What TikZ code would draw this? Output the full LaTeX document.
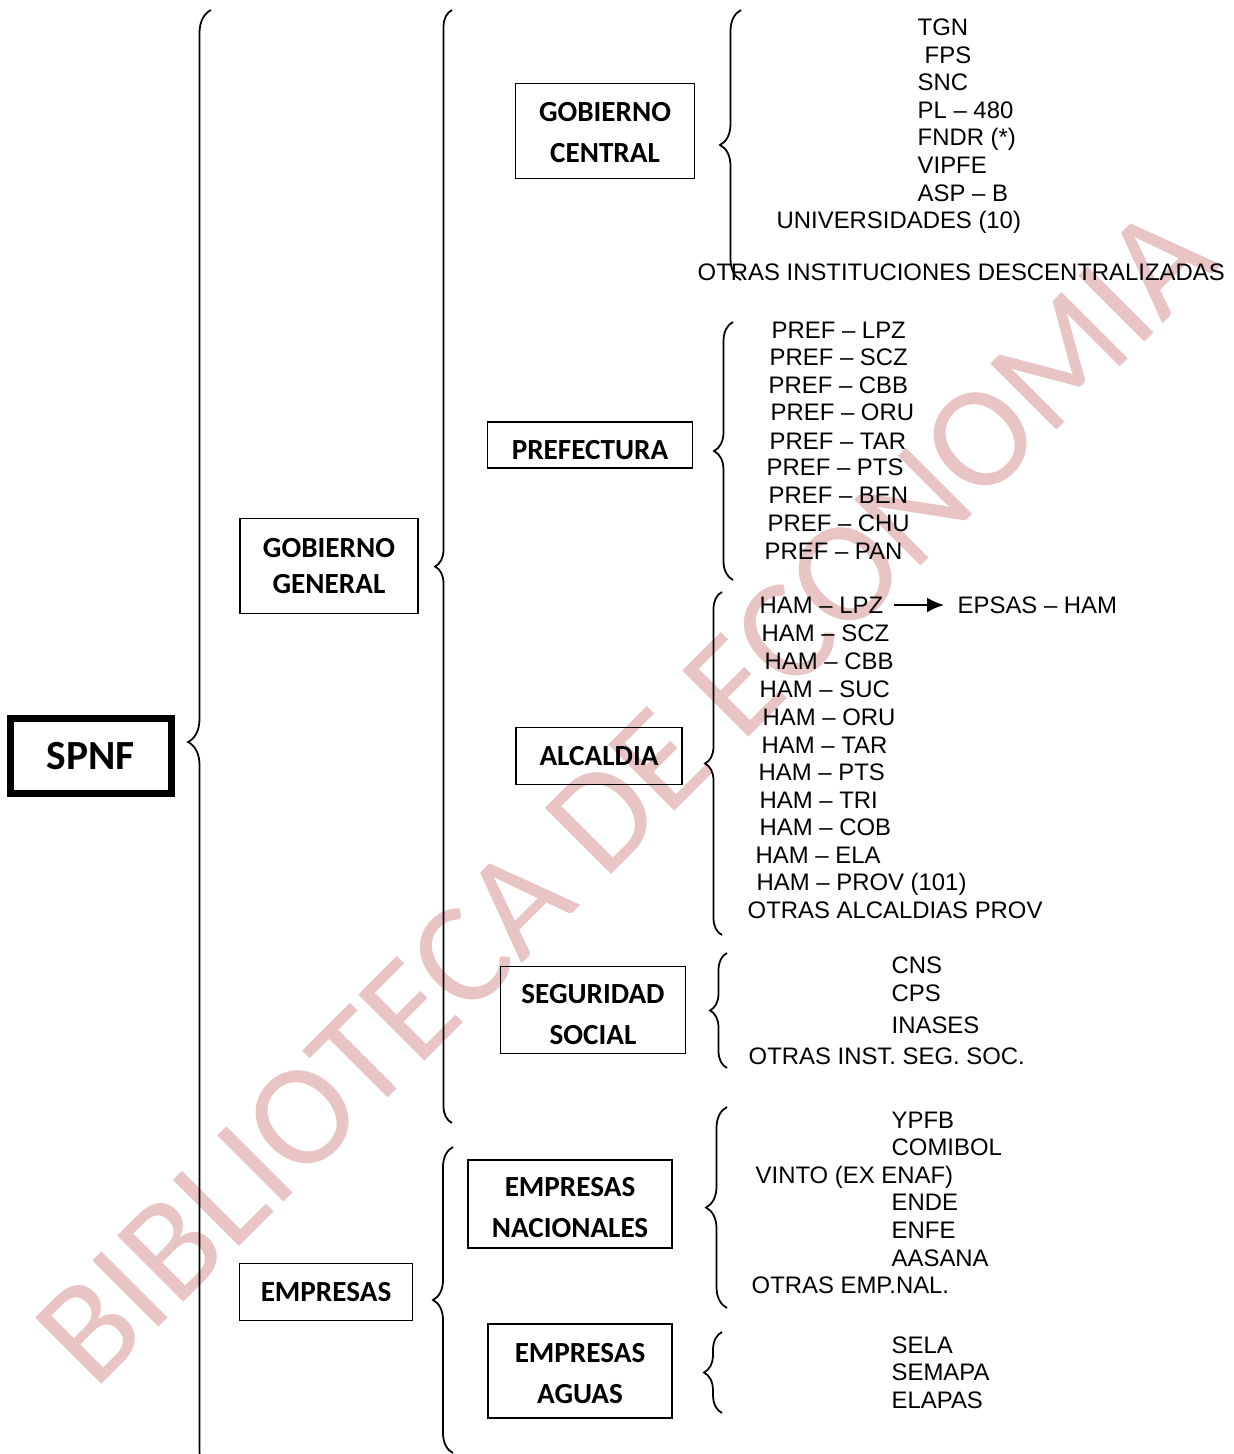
\documentclass[tikz,border=0pt]{standalone}
\usepackage{fontspec}
\setmainfont{Liberation Sans}
\newfontfamily\calibri{Carlito}
\usetikzlibrary{decorations.pathreplacing, arrows.meta}
\definecolor{marca}{RGB}{233,196,196}

\begin{document}
\begin{tikzpicture}[x=0.02cm, y=-0.02cm, thick,
    main/.style = {draw, line width=1.1pt, align=center, inner sep=0pt, font=\calibri\bfseries\fontsize{16.6}{23.3}\selectfont},
    item/.style = {anchor=west, inner sep=0pt, text height=0.34cm, text depth=0pt, font=\fontsize{13.6}{16}\selectfont},
    brc/.style = {decorate, decoration={brace, amplitude=#1}, line width=1pt}]
        \useasboundingbox (0,0) rectangle (1234,1454);
        \clip (0,0) rectangle (1234,1454);

        \node[rotate=45, text=marca, font=\calibri\fontsize{83}{83}\selectfont] (marca) at (625,795) {BIBLIOTECA DE ECONOMIA};

        \node[main, line width=4pt, minimum width=3.22cm, minimum height=1.5cm, font=\calibri\bfseries\fontsize{23.6}{28}\selectfont] (spnf) at (91,756) {SPNF};
        \node[main, minimum width=3.56cm, minimum height=1.9cm, font=\calibri\bfseries\fontsize{16.6}{20.5}\selectfont] (gg) at (329,566) {GOBIERNO\\GENERAL};
        \node[main, minimum width=3.46cm, minimum height=1.14cm] (emp) at (326,1292) {EMPRESAS};
        \node[main, minimum width=3.58cm, minimum height=1.9cm] (gc) at (605,131) {\rule{0pt}{0.454cm}GOBIERNO\\CENTRAL};
        \node[main, minimum width=4.1cm, minimum height=0.92cm] (pref) at (590,445) {\rule{0pt}{0.576cm}PREFECTURA};
        \node[main, minimum width=3.32cm, minimum height=1.14cm] (alc) at (599,756) {ALCALDIA};
        \node[main, minimum width=3.7cm, minimum height=1.74cm] (seg) at (593,1010) {\rule{0pt}{0.574cm}SEGURIDAD\\SOCIAL};
        \node[main, minimum width=4.08cm, minimum height=1.76cm] (en) at (570,1204) {\rule{0pt}{0.534cm}EMPRESAS\\NACIONALES};
        \node[main, minimum width=3.68cm, minimum height=1.88cm] (ea) at (580,1371) {\rule{0pt}{0.494cm}EMPRESAS\\AGUAS};

        \node[item] (tgn) at (917,27) {TGN};
        \node[item] (fps) at (924,55) {FPS};
        \node[item] (snc) at (917,82) {SNC};
        \node[item] (pl) at (917,110) {PL \textendash{} 480};
        \node[item] (fndr) at (917,137) {FNDR (*)};
        \node[item] (vipfe) at (917,165) {VIPFE};
        \node[item] (asp) at (917,193) {ASP \textendash{} B};
        \node[item] (univ) at (776,220) {UNIVERSIDADES (10)};
        \node[item] (oid) at (697,272) {OTRAS INSTITUCIONES DESCENTRALIZADAS};

        \node[item] (plpz) at (771,330) {PREF \textendash{} LPZ};
        \node[item] (pscz) at (769,357) {PREF \textendash{} SCZ};
        \node[item] (pcbb) at (768,385) {PREF \textendash{} CBB};
        \node[item] (poru) at (770,412) {PREF \textendash{} ORU};
        \node[item] (ptar) at (769,441) {PREF \textendash{} TAR};
        \node[item] (ppts) at (766,467) {PREF \textendash{} PTS};
        \node[item] (pben) at (768,495) {PREF \textendash{} BEN};
        \node[item] (pchu) at (767,523) {PREF \textendash{} CHU};
        \node[item] (ppan) at (764,551) {PREF \textendash{} PAN};

        \node[item] (hlpz) at (759,605) {HAM \textendash{} LPZ};
        \node[item] (epsas) at (957,605) {EPSAS \textendash{} HAM};
        \node[item] (hscz) at (761,633) {HAM \textendash{} SCZ};
        \node[item] (hcbb) at (764,661) {HAM \textendash{} CBB};
        \node[item] (hsuc) at (759,689) {HAM \textendash{} SUC};
        \node[item] (horu) at (762,717) {HAM \textendash{} ORU};
        \node[item] (htar) at (761,745) {HAM \textendash{} TAR};
        \node[item] (hpts) at (758,772) {HAM \textendash{} PTS};
        \node[item] (htri) at (759,800) {HAM \textendash{} TRI};
        \node[item] (hcob) at (759,827) {HAM \textendash{} COB};
        \node[item] (hela) at (755,855) {HAM \textendash{} ELA};
        \node[item] (hprov) at (756,882) {HAM \textendash{} PROV (101)};
        \node[item] (oalc) at (747,910) {OTRAS ALCALDIAS PROV};

        \node[item] (cns) at (891,965) {CNS};
        \node[item] (cps) at (891,993) {CPS};
        \node[item] (inases) at (891,1025) {INASES};
        \node[item] (oss) at (748,1056) {OTRAS INST. SEG. SOC.};

        \node[item] (ypfb) at (891,1120) {YPFB};
        \node[item] (comibol) at (891,1147) {COMIBOL};
        \node[item] (vinto) at (755,1175) {VINTO (EX ENAF)};
        \node[item] (ende) at (891,1202) {ENDE};
        \node[item] (enfe) at (891,1230) {ENFE};
        \node[item] (aasana) at (891,1258) {AASANA};
        \node[item] (oemp) at (751,1285) {OTRAS EMP.NAL.};

        \node[item] (sela) at (891,1345) {SELA};
        \node[item] (semapa) at (891,1372) {SEMAPA};
        \node[item] (elapas) at (891,1400) {ELAPAS};

        \draw[brc=0.46cm] (211,1474) -- (211,10);
        \draw[brc=0.34cm] (452,1123) -- (452,10);
        \draw[brc=0.4cm] (453,1453) -- (453,1147);
        \draw[brc=0.42cm] (741,280) -- (741,10);
        \draw[brc=0.38cm] (733,580) -- (733,322);
        \draw[brc=0.34cm] (722,935) -- (722,592);
        \draw[brc=0.34cm] (727,1068) -- (727,953);
        \draw[brc=0.42cm] (727,1308) -- (727,1107);
        \draw[brc=0.36cm] (722,1413) -- (722,1332);

        \draw[-{Latex[length=0.34cm, width=0.3cm]}, line width=1.2pt, shorten <=0.2cm, shorten >=0.26cm] (hlpz) -- (epsas);

    \end{tikzpicture}
\end{document}
